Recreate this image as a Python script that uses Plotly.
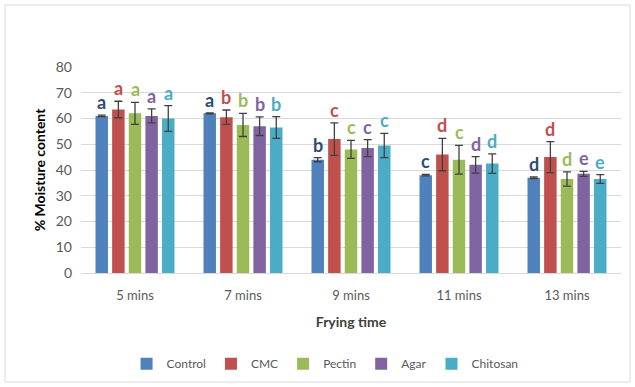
import plotly.graph_objects as go

categories = ["5 mins", "7 mins", "9 mins", "11 mins", "13 mins"]
series_names = ["Control", "CMC", "Pectin", "Agar", "Chitosan"]

control = [61.0, 62.0, 44.0, 38.0, 37.0]
cmc = [63.5, 60.5, 52.0, 46.0, 45.0]
pectin = [62.0, 57.5, 48.0, 44.0, 36.5]
agar = [61.0, 57.0, 48.5, 42.0, 38.5]
chitosan = [60.0, 56.5, 49.5, 42.5, 36.5]

control_err = [0.3, 0.2, 0.8, 0.3, 0.3]
cmc_err = [3.2, 2.8, 6.3, 6.3, 6.0]
pectin_err = [4.3, 4.5, 3.5, 5.6, 2.8]
agar_err = [2.7, 3.6, 3.3, 3.2, 1.0]
chitosan_err = [5.0, 4.2, 4.7, 3.8, 1.7]

control_letters = ["a", "a", "b", "c", "d"]
cmc_letters = ["a", "b", "c", "d", "d"]
pectin_letters = ["a", "b", "c", "c", "d"]
agar_letters = ["a", "b", "c", "d", "e"]
chitosan_letters = ["a", "b", "c", "d", "e"]

values = [control, cmc, pectin, agar, chitosan]
errors = [control_err, cmc_err, pectin_err, agar_err, chitosan_err]
letters = [control_letters, cmc_letters, pectin_letters, agar_letters, chitosan_letters]

colors = ["#4F81BD", "#C0504D", "#9BBB59", "#8064A2", "#4BACC6"]
letter_colors = ["#2C4D75", "#C0504D", "#9BBB59", "#8064A2", "#4BACC6"]

FONT = "Lato, 'Open Sans', sans-serif"
BARGAP = 0.23

fig = go.Figure()
for name, vals, errs, col in zip(series_names, values, errors, colors):
    fig.add_trace(go.Bar(
        name=name, x=categories, y=vals, marker_color=col,
        marker_line_width=0,
        error_y=dict(type="data", array=errs, visible=True,
                     color="#404040", thickness=1.3, width=4),
    ))

n = len(series_names)
slot = (1 - BARGAP) / n
annotations = []
for si in range(n):
    for ci in range(len(categories)):
        xpos = ci + (si - (n - 1) / 2) * slot
        annotations.append(dict(
            x=xpos, y=values[si][ci] + errors[si][ci], xref="x", yref="y",
            text="<b>%s</b>" % letters[si][ci], showarrow=False,
            yanchor="middle", yshift=13,
            font=dict(family=FONT, size=18, color=letter_colors[si]),
        ))

fig.update_layout(
    width=635, height=387,
    margin=dict(l=81, r=14, t=67, b=114, autoexpand=False),
    paper_bgcolor="white", plot_bgcolor="white",
    barmode="group", bargap=BARGAP, bargroupgap=0.25,
    font=dict(family=FONT, size=13, color="#595959"),
    annotations=annotations,
    showlegend=True,
    legend=dict(orientation="h", x=0.452, xanchor="center", y=-0.44, yanchor="middle",
                font=dict(size=12, color="#595959"), itemwidth=30,
                traceorder="normal"),
    shapes=[dict(type="rect", xref="paper", yref="paper",
                 x0=-76 / 540, x1=1 + 9 / 540, y0=-109 / 206, y1=1 + 62 / 206,
                 line=dict(color="#D9D9D9", width=1))],
)
fig.update_xaxes(
    type="category", showgrid=False, showline=True, linecolor="#D9D9D9", linewidth=1,
    ticks="", ticklabelstandoff=10, tickfont=dict(size=13, color="#595959"),
    automargin=False,
    title=dict(text="<b>Frying time</b>", font=dict(size=14, color="#404040"), standoff=15),
)
fig.update_yaxes(
    range=[0, 80], dtick=10, showgrid=True, gridcolor="#D9D9D9", gridwidth=1,
    zeroline=False, showline=False, ticks="", ticklabelstandoff=8,
    tickfont=dict(size=14, color="#595959"), automargin=False,
    title=dict(text="<b>% Moisture content</b>", font=dict(size=14, color="#000000"), standoff=6),
)

fig.write_html("out.html")
